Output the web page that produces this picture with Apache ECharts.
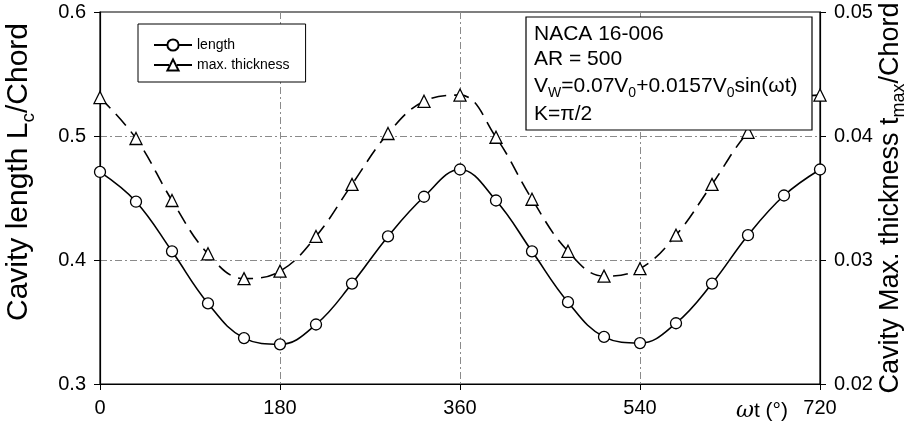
<!DOCTYPE html>
<html>
<head>
<meta charset="utf-8">
<script src="https://cdn.jsdelivr.net/npm/echarts@6/dist/echarts.min.js"></script>
<style>
  html, body { margin: 0; padding: 0; background: #fff; }
  #chart { width: 906px; height: 430px; }
</style>
</head>
<body>
<div id="chart"></div>
<script>
// Phase angle omega*t in degrees
const phase = [0, 36, 72, 108, 144, 180, 216, 252, 288, 324, 360,
               396, 432, 468, 504, 540, 576, 612, 648, 684, 720];

// Cavity length L_c / Chord (left axis)
const cavityLength = [0.471, 0.447, 0.407, 0.365, 0.337, 0.332, 0.348, 0.381, 0.419, 0.451, 0.473,
                      0.448, 0.407, 0.366, 0.338, 0.333, 0.349, 0.381, 0.420, 0.452, 0.473];

// Cavity max. thickness t_max / Chord (right axis)
const cavityThickness = [0.0431, 0.0398, 0.0348, 0.0305, 0.0285, 0.0291, 0.0319, 0.0361, 0.0402, 0.0428, 0.0433,
                         0.0399, 0.0349, 0.0307, 0.0287, 0.0293, 0.0320, 0.0361, 0.0403, 0.0428, 0.0433];

const xTicks = [0, 180, 360, 540, 720];
const leftTicks = [0.3, 0.4, 0.5, 0.6];
const rightTicks = [0.02, 0.03, 0.04, 0.05];

const seriesNames = ['length', 'max. thickness'];
const infoLines = ['NACA 16-006', 'AR = 500'];

const FONT = 'Liberation Sans, Arial, Helvetica, sans-serif';

const chart = echarts.init(document.getElementById('chart'));

const gridLine = { show: true, showMinLine: false, showMaxLine: false,
  lineStyle: { color: '#8a8a8a', width: 1, type: [7, 3, 2, 3] } };

// rich-text styles: main run and lowered subscript run
function richPair(size, subSize, lineH) {
  return {
    a: { fontFamily: FONT, fontSize: size, lineHeight: lineH, fill: '#000', verticalAlign: 'middle' },
    s: { fontFamily: FONT, fontSize: subSize, lineHeight: subSize, fill: '#000', verticalAlign: 'bottom' }
  };
}

chart.setOption({
  animation: false,
  backgroundColor: '#fff',
  grid: { left: 100, right: 86, top: 12, bottom: 46, show: true,
          borderColor: '#000', borderWidth: 1.2, backgroundColor: 'transparent' },
  legend: {
    data: seriesNames,
    orient: 'vertical',
    left: 138, top: 24,
    padding: [14, 16, 10, 15],
    itemWidth: 38, itemHeight: 14, itemGap: 6,
    borderColor: '#000', borderWidth: 1, backgroundColor: '#fff',
    textStyle: { fontFamily: FONT, fontSize: 14, color: '#000' }
  },
  xAxis: {
    type: 'value', min: xTicks[0], max: xTicks[xTicks.length - 1], interval: 180,
    axisLine: { lineStyle: { color: '#000', width: 1.2 } },
    axisTick: { show: true, length: 6, lineStyle: { color: '#000' } },
    axisLabel: { fontFamily: FONT, fontSize: 20, color: '#000', margin: 14,
                 formatter: v => xTicks.includes(v) ? String(v) : '' },
    splitLine: gridLine
  },
  yAxis: [
    {
      type: 'value', position: 'left', min: leftTicks[0], max: leftTicks[leftTicks.length - 1], interval: 0.1,
      axisLine: { show: true, lineStyle: { color: '#000', width: 1.2 } },
      axisTick: { show: true, length: 6, lineStyle: { color: '#000' } },
      axisLabel: { fontFamily: FONT, fontSize: 20, color: '#000', margin: 14,
                   formatter: v => v.toFixed(1) },
      splitLine: gridLine
    },
    {
      type: 'value', position: 'right', min: rightTicks[0], max: rightTicks[rightTicks.length - 1], interval: 0.01,
      axisLine: { show: true, lineStyle: { color: '#000', width: 1.2 } },
      axisTick: { show: true, length: 6, lineStyle: { color: '#000' } },
      axisLabel: { fontFamily: FONT, fontSize: 20, color: '#000', margin: 14,
                   formatter: v => v.toFixed(2) },
      splitLine: { show: false }
    }
  ],
  series: [
    {
      name: seriesNames[0], type: 'line', yAxisIndex: 0, smooth: 0.4,
      data: phase.map((p, i) => [p, cavityLength[i]]),
      symbol: 'circle', symbolSize: 11,
      lineStyle: { color: '#000', width: 1.6 },
      itemStyle: { color: '#fff', borderColor: '#000', borderWidth: 1.3 },
      z: 3
    },
    {
      name: seriesNames[1], type: 'line', yAxisIndex: 1, smooth: 0.4,
      data: phase.map((p, i) => [p, cavityThickness[i]]),
      symbol: 'triangle', symbolSize: 12,
      lineStyle: { color: '#000', width: 1.6, type: [15, 8] },
      itemStyle: { color: '#fff', borderColor: '#000', borderWidth: 1.3 },
      z: 3
    }
  ],
  graphic: [
    // parameter box, drawn over the curves
    {
      type: 'rect', z: 100, shape: { x: 526, y: 17, width: 286, height: 113 },
      style: { fill: '#fff', stroke: '#000', lineWidth: 1.2 }
    },
    { type: 'text', z: 101, x: 534, y: 34,
      style: { text: infoLines[0], fontFamily: FONT, fontSize: 21, fill: '#000', verticalAlign: 'middle' } },
    { type: 'text', z: 101, x: 534, y: 59,
      style: { text: infoLines[1], fontFamily: FONT, fontSize: 21, fill: '#000', verticalAlign: 'middle' } },
    { type: 'text', z: 101, x: 534, y: 86,
      style: {
        text: '{a|V}{s|W}{a|=0.07V}{s|0}{a|+0.0157V}{s|0}{a|sin(ωt)}',
        verticalAlign: 'middle',
        rich: richPair(21, 14, 28)
      } },
    { type: 'text', z: 101, x: 534, y: 114,
      style: { text: 'K=π/2', fontFamily: FONT, fontSize: 21, fill: '#000', verticalAlign: 'middle' } },
    // left axis title
    {
      type: 'text', x: 19, y: 172, rotation: Math.PI / 2, z: 50,
      style: {
        text: '{a|Cavity length L}{s|c}{a|/Chord}',
        align: 'center', verticalAlign: 'middle',
        rich: richPair(30, 19, 38)
      }
    },
    // right axis title
    {
      type: 'text', x: 891, y: 198, rotation: Math.PI / 2, z: 50,
      style: {
        text: '{a|Cavity Max. thickness t}{s|max}{a|/Chord}',
        align: 'center', verticalAlign: 'middle',
        rich: richPair(27, 18, 34)
      }
    },
    // x axis title
    {
      type: 'text', x: 762, y: 411, z: 50,
      style: {
        text: '{w|ω}{a|t (°)}',
        align: 'center', verticalAlign: 'middle',
        rich: {
          w: { fontFamily: 'DejaVu Serif, serif', fontStyle: 'italic', fontSize: 22, fill: '#000' },
          a: { fontFamily: FONT, fontSize: 21, fill: '#000' }
        }
      }
    }
  ]
});
</script>
</body>
</html>
